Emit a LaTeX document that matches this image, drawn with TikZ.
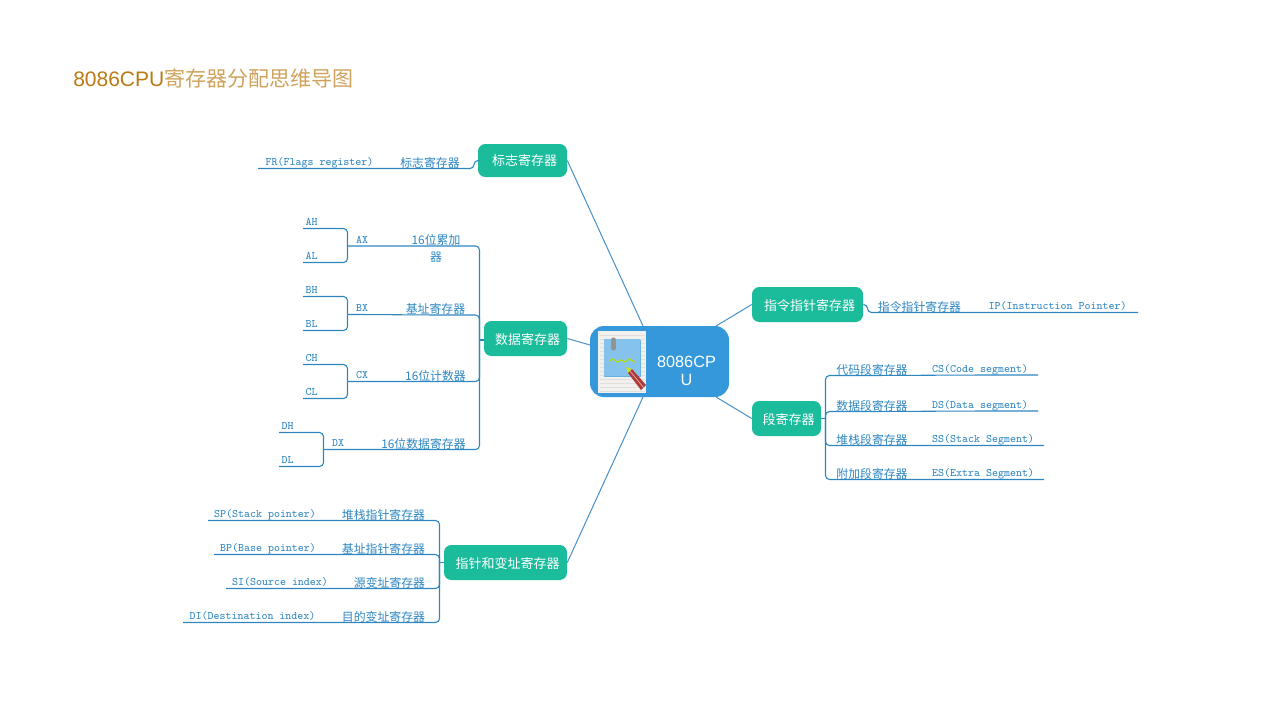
\documentclass[tikz,border=0pt]{standalone}
\usepackage{fontspec}
\usepackage{tikz}
\usetikzlibrary{calc}
\setmainfont{Liberation Sans}
\newfontfamily\cjk{Noto Sans CJK SC}
\definecolor{Branch}{HTML}{1ABC9C}
\definecolor{Center}{HTML}{3498DB}
\definecolor{Line}{HTML}{2E86C1}
\definecolor{Spoke}{HTML}{4A90C8}
\definecolor{Title}{HTML}{B97A14}
\definecolor{PaleNote}{HTML}{86C3EC}
\definecolor{Sheet}{HTML}{F2F0EC}
\definecolor{Pencil}{HTML}{B03A3A}
\tikzset{
  central/.style={draw=none,fill=Center,rounded corners=10.5pt,minimum width=104.25pt,minimum height=53.25pt,inner sep=0pt},
  branch/.style={fill=Branch,rounded corners=5.5pt,minimum height=24.75pt,inner sep=0pt,text=white,font=\cjk\fontsize{9.75}{12}\selectfont,execute at begin node=\hspace*{3pt}},
  tall/.style={minimum height=26.25pt,text height=10.2pt,text depth=1pt},
  leaf/.style={anchor=south,inner xsep=0pt,inner ysep=0pt,text=Line,font=\cjk\fontsize{8.9}{13}\selectfont},
  reg/.style={anchor=south,inner xsep=0pt,inner ysep=.8pt,text depth=1.2pt,text=Line,font=\ttfamily\fontsize{8.57}{12}\selectfont},
  spoke/.style={draw=Spoke,line width=.75pt},
  link/.style={draw=Line,line width=.8pt,rounded corners=3pt},
}
\begin{document}
\begin{tikzpicture}[x=.75pt,y=-.75pt]
    \useasboundingbox (0,0) rectangle (1264,719);
    \node[anchor=west,inner sep=0pt,text=Title] (title) at (73,78)
      {\fontsize{15.75}{18}\selectfont 8086CPU{\cjk\color{Title!70!white}寄存器分配思维导图}};

    % centre and main branches
    \node[central] (cpu) at (659.5,361.5) {};
    \node[branch,minimum width=66.75pt] (flag) at (522.5,160.5) {标志寄存器};
    \node[branch,tall,minimum width=62.25pt] (data) at (525.5,338.5) {数据寄存器};
    \node[branch,tall,minimum width=92.25pt] (ptr) at (505.5,562.5) {指针和变址寄存器};
    \node[branch,tall,minimum width=83.25pt] (ip) at (807.5,304.5) {指令指针寄存器};
    \node[branch,tall,minimum width=51.75pt] (seg) at (786.5,418.5) {段寄存器};
    \node[anchor=center,inner sep=0pt,align=center,text=white,font=\fontsize{12.2}{13.5}\selectfont] (cpulabel) at (686.5,371) {8086CP\\U};

    % note icon on the centre node
    \fill[Sheet] (598,331) rectangle (646,393);
    \foreach \y in {335,339,...,391} \draw[white!75!gray,line width=.5pt] (600,\y) -- (645,\y);
    \fill[PaleNote] (604,339) rectangle (640,376);
    \draw[Center!75!white,line width=.5pt] (604,376) -- (640,376) -- (640,340);
    \draw[gray!85!white,line width=3.8pt,line cap=round] (613.5,340) -- (613.5,348);
    \draw[yellow!70!green,line width=.9pt] (609,361) -- (613,359) -- (617,362) -- (621,360) -- (625,362) -- (629,359) -- (635,362);
    \fill[yellow!80!green] (626,367) -- (632,369) -- (628,373) -- cycle;
    \fill[Pencil] (632,369) -- (646,385) -- (641,390) -- (628,373) -- cycle;
    \draw[white!60!Pencil,line width=.5pt] (630,371) -- (643.5,387.5);

    \coordinate (cpuN) at (643,326);
    \coordinate (cpuW) at (590,345);
    \coordinate (cpuS) at (643,397);
    \coordinate (cpuNE) at (716,326);
    \coordinate (cpuSE) at (716,397);
    \draw[spoke] (cpuN) -- (flag.east);
    \draw[spoke] (cpuW) -- (data.east);
    \draw[spoke] (cpuS) -- (ptr.east);
    \draw[spoke] (cpuNE) -- (ip.west);
    \draw[spoke] (cpuSE) -- (seg.west);

    % flag register
    \node[leaf] (lflag) at (430,168.5) {标志寄存器};
    \node[reg] (fr) at (319.5,168.5) {FR(Flags register)};
    \coordinate (frEnd) at (258,168.5);
    \coordinate (flagJ) at (474,160.5);
    \draw[link] (frEnd) -- (fr.south) -- (lflag.south) -| (flagJ) -- (flag.west);

    % data registers
    \coordinate (dataS) at (479.5,340);
    \draw[link] (data.west |- dataS) -- (dataS);
    \node[leaf,anchor=center,align=center] (lac) at (436,248.5) {16位累加\\器};
    \node[leaf] (lbx) at (435.5,315) {基址寄存器};
    \node[leaf] (lcx) at (435.5,381.5) {16位计数器};
    \node[leaf] (ldx) at (423.5,449.5) {16位数据寄存器};
    \node[reg] (ax) at (362,246) {AX};
    \node[reg] (bx) at (362,314.5) {BX};
    \node[reg] (cx) at (362,381.5) {CX};
    \node[reg] (dx) at (338,449.5) {DX};
    \node[reg] (ah) at (311.5,228.5) {AH};
    \node[reg] (al) at (311.5,262.5) {AL};
    \node[reg] (bh) at (311.5,296.5) {BH};
    \node[reg] (bl) at (311.5,330.5) {BL};
    \node[reg] (ch) at (311.5,364.5) {CH};
    \node[reg] (cl) at (311.5,398.5) {CL};
    \node[reg] (dh) at (287.5,432.5) {DH};
    \node[reg] (dl) at (287.5,466.5) {DL};
    \coordinate (ahEnd) at (303,228.5);
    \coordinate (alEnd) at (303,262.5);
    \coordinate (bhEnd) at (303,296.5);
    \coordinate (blEnd) at (303,330.5);
    \coordinate (chEnd) at (303,364.5);
    \coordinate (clEnd) at (303,398.5);
    \coordinate (dhEnd) at (279,432.5);
    \coordinate (dlEnd) at (279,466.5);
    \coordinate (axJ) at (347.5,246);
    \coordinate (bxJ) at (347.5,314.5);
    \coordinate (cxJ) at (347.5,381.5);
    \coordinate (dxJ) at (323.5,449.5);
    \draw[link] (ahEnd) -- (ah.south) -| (axJ);
    \draw[link] (alEnd) -- (al.south) -| (axJ);
    \draw[link] (bhEnd) -- (bh.south) -| (bxJ);
    \draw[link] (blEnd) -- (bl.south) -| (bxJ);
    \draw[link] (chEnd) -- (ch.south) -| (cxJ);
    \draw[link] (clEnd) -- (cl.south) -| (cxJ);
    \draw[link] (dhEnd) -- (dh.south) -| (dxJ);
    \draw[link] (dlEnd) -- (dl.south) -| (dxJ);
    \draw[link] (axJ) -- (ax.south) -| (dataS);
    \draw[link] (bxJ) -- (bx.south) -- (lbx.south) -| (dataS);
    \draw[link] (cxJ) -- (cx.south) -- (lcx.south) -| (dataS);
    \draw[link] (dxJ) -- (dx.south) -- (ldx.south) -| (dataS);

    % pointer and index registers
    \coordinate (ptrS) at (439.5,562.5);
    \draw[link] (ptr.west) -- (ptrS);
    \node[leaf] (lsp) at (383.5,520.5) {堆栈指针寄存器};
    \node[leaf] (lbp) at (383.5,554.5) {基址指针寄存器};
    \node[leaf] (lsi) at (389.5,588.5) {源变址寄存器};
    \node[leaf] (ldi) at (383.5,622.5) {目的变址寄存器};
    \node[reg] (sp) at (265,520.5) {SP(Stack pointer)};
    \node[reg] (bp) at (268,554.5) {BP(Base pointer)};
    \node[reg] (si) at (280,588.5) {SI(Source index)};
    \node[reg] (di) at (252.5,622.5) {DI(Destination index)};
    \coordinate (spEnd) at (208,520.5);
    \coordinate (bpEnd) at (214,554.5);
    \coordinate (siEnd) at (226,588.5);
    \coordinate (diEnd) at (183,622.5);
    \draw[link] (spEnd) -- (sp.south) -- (lsp.south) -| (ptrS);
    \draw[link] (bpEnd) -- (bp.south) -- (lbp.south) -| (ptrS);
    \draw[link] (siEnd) -- (si.south) -- (lsi.south) -| (ptrS);
    \draw[link] (diEnd) -- (di.south) -- (ldi.south) -| (ptrS);

    % instruction pointer
    \node[leaf] (lip) at (919.5,312.5) {指令指针寄存器};
    \node[reg] (ipr) at (1057.5,312.5) {IP(Instruction Pointer)};
    \coordinate (ipEnd) at (1138,312.5);
    \coordinate (ipJ) at (867.5,304.5);
    \draw[link] (ip.east) -- (ipJ) |- (lip.south) -- (ipr.south) -- (ipEnd);

    % segment registers
    \coordinate (segS) at (825.5,418.5);
    \draw[link] (seg.east) -- (segS);
    \node[leaf] (lcs) at (872,375.5) {代码段寄存器};
    \node[leaf] (lds) at (872,411.5) {数据段寄存器};
    \node[leaf] (lss) at (872,445.5) {堆栈段寄存器};
    \node[leaf] (les) at (872,479.5) {附加段寄存器};
    \node[reg] (cs) at (980,375) {CS(Code segment)};
    \node[reg] (ds) at (980,411) {DS(Data segment)};
    \node[reg] (ss) at (983,445.5) {SS(Stack Segment)};
    \node[reg] (es) at (983,479.5) {ES(Extra Segment)};
    \coordinate (csEnd) at (1038,375);
    \coordinate (dsEnd) at (1038,411);
    \coordinate (ssEnd) at (1044,445.5);
    \coordinate (esEnd) at (1044,479.5);
    \draw[link] (segS) |- (lcs.south) -- (cs.south) -- (csEnd);
    \draw[link] (segS) |- (lds.south) -- (ds.south) -- (dsEnd);
    \draw[link] (segS) |- (lss.south) -- (ss.south) -- (ssEnd);
    \draw[link] (segS) |- (les.south) -- (es.south) -- (esEnd);
  \end{tikzpicture}
\end{document}
